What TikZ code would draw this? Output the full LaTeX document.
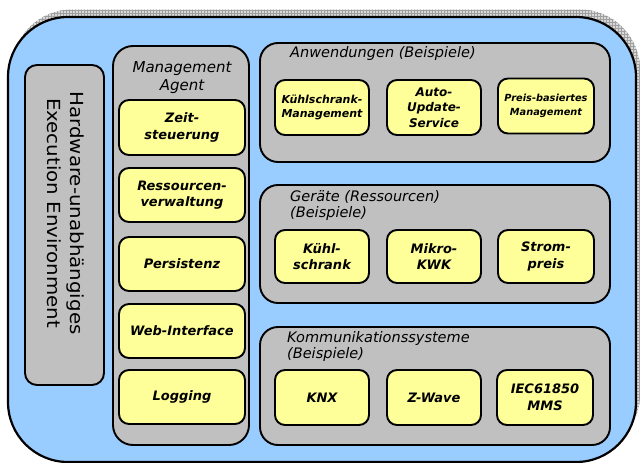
\documentclass[tikz,border=0pt]{standalone}
\usepackage{fontspec}
\setmainfont{DejaVu Sans}
\usetikzlibrary{patterns}
\definecolor{bgblue}{HTML}{99CCFF}
\definecolor{panelgray}{HTML}{C0C0C0}
\definecolor{boxyellow}{HTML}{FFFF99}
\tikzset{
  outerbox/.style={draw=black, line width=2.2pt, fill=bgblue, rounded corners=60pt, minimum width=628pt, minimum height=445pt, inner sep=0pt},
  shadowbox/.style={draw=none, fill=gray!30, pattern color=gray!75, rounded corners=60pt, minimum width=628pt, minimum height=445pt, inner sep=0pt},
  panel/.style={draw=black, line width=1.9pt, fill=panelgray, rounded corners=18pt, inner sep=0pt},
  ybox/.style={draw=black, line width=1.9pt, fill=boxyellow, rounded corners=10pt, inner sep=0pt, align=center, font=\fontsize{13}{16.5}\selectfont\bfseries\itshape},
  mgbox/.style={ybox, minimum width=126pt, minimum height=54pt},
  pbox/.style={ybox, minimum width=94pt, minimum height=54pt},
  ptitle/.style={anchor=west, align=left, inner sep=0pt, font=\fontsize{14.5}{16}\selectfont\itshape}
}
\begin{document}
\begin{tikzpicture}[x=1pt, y=-1pt]
\useasboundingbox (0,0) rectangle (640,463);
% shadow and outer frame
\node[shadowbox] (shadowbg) at (326,232) {};
\node[shadowbox, fill=none, pattern=grid] (shadowgrid) at (326,232) {};
\node[outerbox] (outer) at (322,239.5) {};
% hardware box
\node[panel, rounded corners=12pt, minimum width=79pt, minimum height=320pt] (hw) at (64.5,225) {};
\node[rotate=-90, align=center, inner sep=0pt, font=\fontsize{18}{23}\selectfont] (hwtext) at (66,213)
  {\scalebox{1.1}[1]{Hardware-unabhängiges}\\\scalebox{1.1}[1]{Execution Environment}};
% management agent column
\node[panel, rounded corners=20pt, minimum width=136pt, minimum height=399pt] (mgmt) at (181,245.5) {};
\node[align=center, inner sep=0pt, font=\fontsize{15}{17.5}\selectfont\itshape] (mgmttitle) at (182,77.5) {Management\\Agent};
\node[mgbox, minimum height=55pt] (zeit) at (182,127.5) {Zeit-\\steuerung};
\node[mgbox] (ress) at (182,195) {Ressourcen-\\verwaltung};
\node[mgbox] (pers) at (182,264) {Persistenz};
\node[mgbox] (web) at (182,331) {Web-Interface};
\node[mgbox] (log) at (182,397) {Logging};
% right panels
\node[panel, minimum width=350pt, minimum height=119pt] (anw) at (435,102.5) {};
\node[panel, minimum width=350pt, minimum height=118pt] (ger) at (435,244) {};
\node[panel, minimum width=350pt, minimum height=118pt] (kom) at (435,386) {};
\node[ptitle] (anwtitle) at (290,53) {Anwendungen (Beispiele)};
\node[ptitle] (gertitle) at (290,205.5) {Geräte (Ressourcen)\\(Beispiele)};
\node[ptitle] (komtitle) at (287,346.5) {Kommunikationssysteme\\(Beispiele)};
% Anwendungen boxes
\node[pbox, minimum height=55pt, font=\fontsize{11}{14}\selectfont\bfseries\itshape] (kuehlmgmt) at (322,107.5) {Kühlschrank-\\Management};
\node[pbox, minimum height=55pt, font=\fontsize{12}{15.5}\selectfont\bfseries\itshape] (autoupd) at (434,107.5) {Auto-\\Update-\\Service};
\node[pbox, minimum width=96pt, minimum height=55pt, font=\fontsize{9.8}{14}\selectfont\bfseries\itshape] (preis) at (546,106) {Preis-basiertes\\Management};
% Geraete boxes
\node[pbox, minimum height=53pt] (kuehl) at (322,256.5) {Kühl-\\schrank};
\node[pbox, minimum height=53pt] (mikro) at (434,256.5) {Mikro-\\KWK};
\node[pbox, minimum width=96pt, minimum height=53pt] (strom) at (546,256.5) {Strom-\\preis};
% Kommunikation boxes
\node[pbox, minimum height=55pt] (knx) at (322,397.5) {KNX};
\node[pbox, minimum height=55pt] (zwave) at (434,397.5) {Z-Wave};
\node[pbox, minimum width=96pt, minimum height=55pt] (iec) at (545,397.5) {IEC61850\\MMS};
\end{tikzpicture}
\end{document}
